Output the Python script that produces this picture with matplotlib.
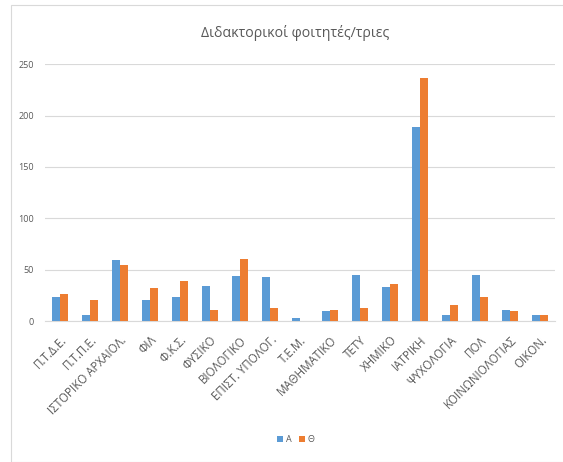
import matplotlib
matplotlib.use("Agg")
import matplotlib.pyplot as plt
import numpy as np
from matplotlib.patches import Rectangle

categories = ["Π.Τ.Δ.Ε.", "Π.Τ.Π.Ε.", "ΙΣΤΟΡΙΚΟ ΑΡΧΑΙΟΛ.", "ΦΙΛ", "Φ.Κ.Σ.", "ΦΥΣΙΚΟ",
              "ΒΙΟΛΟΓΙΚΟ", "ΕΠΙΣΤ. ΥΠΟΛΟΓ.", "Τ.Ε.Μ.", "ΜΑΘΗΜΑΤΙΚΟ", "ΤΕΤΥ", "ΧΗΜΙΚΟ",
              "ΙΑΤΡΙΚΗ", "ΨΥΧΟΛΟΓΙΑ", "ΠΟΛ", "ΚΟΙΝΩΝΙΟΛΟΓΙΑΣ", "ΟΙΚΟΝ."]
series_A = [23, 6, 59, 21, 23, 34, 44, 43, 3, 10, 45, 33, 189, 6, 45, 11, 6]
series_Th = [26, 21, 55, 32, 39, 11, 60, 13, 0, 11, 13, 36, 237, 16, 23, 10, 6]
series_names = ["Α", "Θ"]
yticks = [0, 50, 100, 150, 200, 250]
title = "Διδακτορικοί φοιτητές/τριες"

plt.rcParams['font.family'] = ['Open Sans', 'DejaVu Sans']
fig = plt.figure(figsize=(5.63, 4.62), dpi=100)
ax = fig.add_axes([0.08, 0.305, 0.906, 0.556])

fig.patches.append(Rectangle((0.02, 0.0), 0.985, 0.99, transform=fig.transFigure,
                             fill=False, edgecolor='#D9D9D9', linewidth=0.8))

x = np.arange(len(categories))
w = 0.27
ax.bar(x - w/2, series_A, w, color='#5B9BD5', label=series_names[0], zorder=3)
ax.bar(x + w/2, series_Th, w, color='#ED7D31', label=series_names[1], zorder=3)

ax.set_ylim(0, 250)
ax.set_xlim(-0.5, len(categories) - 0.5)
ax.set_yticks(yticks)
ax.set_yticklabels([str(t) for t in yticks], fontsize=6.5, color='#595959')
ax.yaxis.grid(True, color='#D9D9D9', linewidth=0.8, zorder=0)
ax.set_xticks(x)
ax.set_xticklabels(categories, rotation=45, ha='right', rotation_mode='anchor',
                   fontsize=8.3, color='#595959')
ax.tick_params(axis='x', length=0, pad=9)
ax.tick_params(axis='y', length=0, pad=8)
for s in ['top', 'right', 'left']:
    ax.spines[s].set_visible(False)
ax.spines['bottom'].set_color('#D9D9D9')

fig.text(0.525, 0.928, title, ha='center', va='center', fontsize=10.2, color='#595959')
fig.legend(loc='center', bbox_to_anchor=(0.525, 0.048), ncol=2, frameon=False,
           fontsize=6.5, handlelength=0.7, handleheight=0.7, columnspacing=0.8,
           handletextpad=0.3, labelcolor='#595959')

fig.savefig("out.png", dpi=100)
